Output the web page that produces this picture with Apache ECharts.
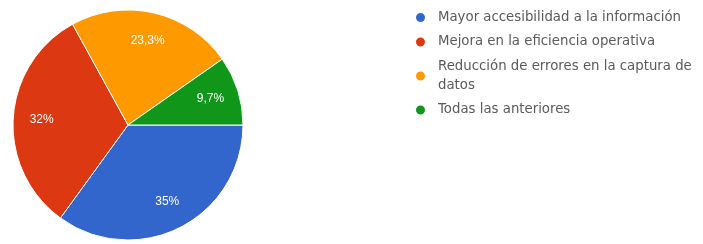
<!DOCTYPE html>
<html>
<head>
<meta charset="utf-8">
<script src="https://cdn.jsdelivr.net/npm/echarts@6/dist/echarts.min.js"></script>
<style>
  html, body { margin: 0; padding: 0; background: #fff; }
  #pie { width: 703px; height: 244px; }
</style>
</head>
<body>
<div id="pie"></div>
<script>
// valores
var categorias = [
    "Mayor accesibilidad a la información",
    "Mejora en la eficiencia operativa",
    "Reducción de errores en la captura de datos",
    "Todas las anteriores"
];
var porcentajes = [35, 32, 23.3, 9.7];
var etiquetas = ["35%", "32%", "23,3%", "9,7%"];
var colores = ["#3366cc", "#dc3912", "#ff9900", "#109618"];

var datos = categorias.map(function (c, i) {
    return { name: c, value: porcentajes[i], label: { formatter: etiquetas[i] } };
});

var chart = echarts.init(document.getElementById("pie"));
chart.setOption({
    animation: false,
    color: colores,
    legend: {
        orient: "vertical",
        left: 409,
        top: 3,
        icon: "circle",
        itemWidth: 11,
        itemHeight: 11,
        itemGap: 5.5,
        data: categorias,
        textStyle: {
            fontFamily: "DejaVu Sans, sans-serif",
            fontSize: 13.3,
            color: "#5a5a5a",
            lineHeight: 19,
            width: 268,
            overflow: "break",
            padding: [0, 0, 0, 7]
        }
    },
    series: [
        {
            name: "main",
            type: "pie",
            center: [128, 125],
            radius: [0, 115],
            startAngle: 0,
            clockwise: true,
            silent: true,
            label: { show: false },
            labelLine: { show: false },
            itemStyle: { borderColor: "#fff", borderWidth: 1 },
            data: datos
        },
        {
            // solo para colocar las etiquetas a ~3/4 del radio
            name: "labels",
            type: "pie",
            center: [128, 125],
            radius: [52, 115],
            startAngle: 0,
            clockwise: true,
            silent: true,
            legendHoverLink: false,
            itemStyle: { color: "transparent" },
            label: {
                show: true,
                position: "inside",
                color: "#fff",
                fontSize: 12,
                fontFamily: "Liberation Sans, Arial, sans-serif"
            },
            labelLine: { show: false },
            data: datos
        }
    ]
});
</script>
</body>
</html>
